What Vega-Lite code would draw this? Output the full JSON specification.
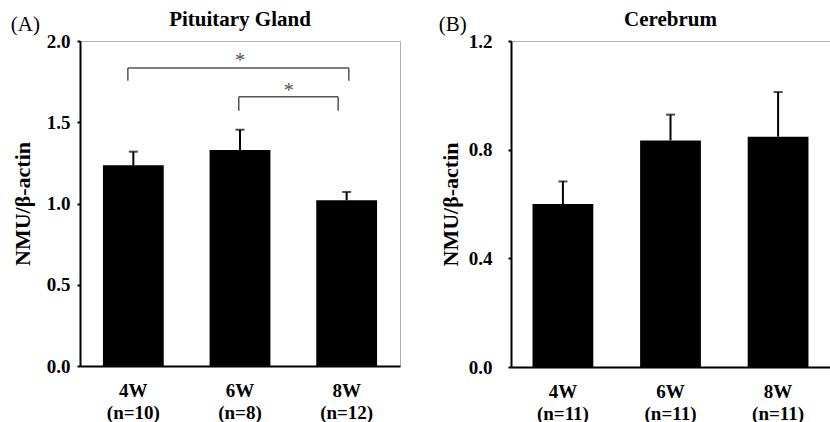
{
  "$schema": "https://vega.github.io/schema/vega-lite/v6.json",
  "background": "white",
  "padding": {"left": 10, "top": 8, "right": 0, "bottom": 0},
  "spacing": 37,
  "config": {
    "font": "Liberation Serif",
    "view": {"stroke": "#b0b0b0", "strokeWidth": 1},
    "axis": {
      "domainColor": "black", "domainWidth": 2, "tickColor": "black", "tickWidth": 2, "tickSize": 3,
      "labelFont": "Liberation Serif", "labelFontWeight": "bold", "labelFontSize": 19, "labelColor": "black",
      "titleFont": "Liberation Serif", "titleFontWeight": "bold", "titleFontSize": 22, "titleColor": "black",
      "grid": false
    },
    "title": {"font": "Liberation Serif", "color": "black"}
  },
  "datasets": {
    "A": [
      {"group": "4W (n=10)", "mean": 1.235, "upper": 1.319},
      {"group": "6W (n=8)", "mean": 1.329, "upper": 1.454},
      {"group": "8W (n=12)", "mean": 1.02, "upper": 1.071}
    ],
    "B": [
      {"group": "4W (n=11)", "mean": 0.6, "upper": 0.683},
      {"group": "6W (n=11)", "mean": 0.834, "upper": 0.929},
      {"group": "8W (n=11)", "mean": 0.848, "upper": 1.012}
    ],
    "brA": [
      {"id": 1, "from": "4W (n=10)", "to": "8W (n=12)", "top": 1.834, "leg": 1.756},
      {"id": 2, "from": "6W (n=8)", "to": "8W (n=12)", "top": 1.657, "leg": 1.571}
    ],
    "starA": [
      {"id": 1, "at": "6W (n=8)", "y": 1.875, "label": "*"},
      {"id": 2, "at": "6W (n=8)", "y": 1.695, "label": "*"}
    ]
  },
  "hconcat": [
    {
      "title": {"text": "(A)", "anchor": "start", "frame": "bounds", "fontSize": 21, "fontWeight": "normal", "offset": -26},
      "vconcat": [
        {
          "width": 320, "height": 325,
          "title": {"text": "Pituitary Gland", "fontSize": 21, "fontWeight": "bold", "offset": 2},
          "layer": [
            {
              "data": {"name": "A"},
              "mark": {"type": "bar", "color": "black"},
              "encoding": {
                "x": {"field": "group", "type": "nominal", "sort": null,
                      "scale": {"domain": ["4W (n=10)", "6W (n=8)", "8W (n=12)"], "paddingInner": 0.43, "paddingOuter": 0.215},
                      "axis": {"title": null, "labelAngle": 0, "ticks": false, "labelPadding": 15, "labelLineHeight": 22, "labelFontSize": 19, "labelFontWeight": "bold", "labelExpr": "split(datum.value, ' ')"}},
                "y": {"field": "mean", "type": "quantitative", "scale": {"domain": [0, 2]},
                      "axis": {"title": "NMU/β-actin", "values": [0, 0.5, 1, 1.5, 2], "format": ".1f", "labelPadding": 7, "titlePadding": 12, "labelFontSize": 19, "labelFontWeight": "bold", "titleFontSize": 22, "titleFontWeight": "bold"}}
              }
            },
            {
              "data": {"name": "A"},
              "mark": {"type": "rule", "color": "black", "strokeWidth": 2},
              "encoding": {
                "x": {"field": "group", "type": "nominal", "sort": null, "scale": {"domain": ["4W (n=10)", "6W (n=8)", "8W (n=12)"]}},
                "y": {"field": "mean", "type": "quantitative", "scale": {"domain": [0, 2]}},
                "y2": {"field": "upper"}
              }
            },
            {
              "data": {"name": "A"},
              "mark": {"type": "tick", "color": "black", "size": 9, "thickness": 2},
              "encoding": {
                "x": {"field": "group", "type": "nominal", "sort": null, "scale": {"domain": ["4W (n=10)", "6W (n=8)", "8W (n=12)"]}},
                "y": {"field": "upper", "type": "quantitative", "scale": {"domain": [0, 2]}}
              }
            },
            {
              "data": {"name": "brA"},
              "transform": [{"filter": "datum.id == 1"}],
              "mark": {"type": "rule", "color": "#555555", "strokeWidth": 1.5},
              "encoding": {
                "x": {"field": "from", "type": "nominal", "bandPosition": 0.41, "scale": {"domain": ["4W (n=10)", "6W (n=8)", "8W (n=12)"]}},
                "x2": {"field": "to", "bandPosition": 0.535},
                "y": {"field": "top", "type": "quantitative", "scale": {"domain": [0, 2]}}
              }
            },
            {
              "data": {"name": "brA"},
              "transform": [{"filter": "datum.id == 1"}],
              "mark": {"type": "rule", "color": "#555555", "strokeWidth": 1.5},
              "encoding": {
                "x": {"field": "from", "type": "nominal", "bandPosition": 0.41, "scale": {"domain": ["4W (n=10)", "6W (n=8)", "8W (n=12)"]}},
                "y": {"field": "top", "type": "quantitative", "scale": {"domain": [0, 2]}},
                "y2": {"field": "leg"}
              }
            },
            {
              "data": {"name": "brA"},
              "transform": [{"filter": "datum.id == 1"}],
              "mark": {"type": "rule", "color": "#555555", "strokeWidth": 1.5},
              "encoding": {
                "x": {"field": "to", "type": "nominal", "bandPosition": 0.535, "scale": {"domain": ["4W (n=10)", "6W (n=8)", "8W (n=12)"]}},
                "y": {"field": "top", "type": "quantitative", "scale": {"domain": [0, 2]}},
                "y2": {"field": "leg"}
              }
            },
            {
              "data": {"name": "brA"},
              "transform": [{"filter": "datum.id == 2"}],
              "mark": {"type": "rule", "color": "#555555", "strokeWidth": 1.5},
              "encoding": {
                "x": {"field": "from", "type": "nominal", "bandPosition": 0.48, "scale": {"domain": ["4W (n=10)", "6W (n=8)", "8W (n=12)"]}},
                "x2": {"field": "to", "bandPosition": 0.36},
                "y": {"field": "top", "type": "quantitative", "scale": {"domain": [0, 2]}}
              }
            },
            {
              "data": {"name": "brA"},
              "transform": [{"filter": "datum.id == 2"}],
              "mark": {"type": "rule", "color": "#555555", "strokeWidth": 1.5},
              "encoding": {
                "x": {"field": "from", "type": "nominal", "bandPosition": 0.48, "scale": {"domain": ["4W (n=10)", "6W (n=8)", "8W (n=12)"]}},
                "y": {"field": "top", "type": "quantitative", "scale": {"domain": [0, 2]}},
                "y2": {"field": "leg"}
              }
            },
            {
              "data": {"name": "brA"},
              "transform": [{"filter": "datum.id == 2"}],
              "mark": {"type": "rule", "color": "#555555", "strokeWidth": 1.5},
              "encoding": {
                "x": {"field": "to", "type": "nominal", "bandPosition": 0.36, "scale": {"domain": ["4W (n=10)", "6W (n=8)", "8W (n=12)"]}},
                "y": {"field": "top", "type": "quantitative", "scale": {"domain": [0, 2]}},
                "y2": {"field": "leg"}
              }
            },
            {
              "data": {"name": "starA"},
              "transform": [{"filter": "datum.id == 1"}],
              "mark": {"type": "text", "color": "#555555", "fontSize": 20, "baseline": "middle"},
              "encoding": {
                "x": {"field": "at", "type": "nominal", "bandPosition": 0.5, "scale": {"domain": ["4W (n=10)", "6W (n=8)", "8W (n=12)"]}},
                "y": {"field": "y", "type": "quantitative", "scale": {"domain": [0, 2]}},
                "text": {"field": "label"}
              }
            },
            {
              "data": {"name": "starA"},
              "transform": [{"filter": "datum.id == 2"}],
              "mark": {"type": "text", "color": "#555555", "fontSize": 20, "baseline": "middle"},
              "encoding": {
                "x": {"field": "at", "type": "nominal", "bandPosition": 1.3, "scale": {"domain": ["4W (n=10)", "6W (n=8)", "8W (n=12)"]}},
                "y": {"field": "y", "type": "quantitative", "scale": {"domain": [0, 2]}},
                "text": {"field": "label"}
              }
            }
          ]
        }
      ]
    },
    {
      "title": {"text": "(B)", "anchor": "start", "frame": "bounds", "fontSize": 21, "fontWeight": "normal", "offset": -26},
      "vconcat": [
        {
          "width": 319, "height": 326,
          "title": {"text": "Cerebrum", "fontSize": 21, "fontWeight": "bold", "offset": 2},
          "layer": [
            {
              "data": {"name": "B"},
              "mark": {"type": "bar", "color": "black"},
              "encoding": {
                "x": {"field": "group", "type": "nominal", "sort": null,
                      "scale": {"domain": ["4W (n=11)", "6W (n=11)", "8W (n=11)"], "paddingInner": 0.435, "paddingOuter": 0.2},
                      "axis": {"title": null, "labelAngle": 0, "ticks": false, "labelPadding": 15, "labelLineHeight": 22, "labelFontSize": 19, "labelFontWeight": "bold", "labelExpr": "split(datum.value, ' ')"}},
                "y": {"field": "mean", "type": "quantitative", "scale": {"domain": [0, 1.2]},
                      "axis": {"title": "NMU/β-actin", "values": [0, 0.4, 0.8, 1.2], "format": ".1f", "labelPadding": 16, "titlePadding": 6, "labelFontSize": 19, "labelFontWeight": "bold", "titleFontSize": 22, "titleFontWeight": "bold"}}
              }
            },
            {
              "data": {"name": "B"},
              "mark": {"type": "rule", "color": "black", "strokeWidth": 2},
              "encoding": {
                "x": {"field": "group", "type": "nominal", "sort": null, "scale": {"domain": ["4W (n=11)", "6W (n=11)", "8W (n=11)"]}},
                "y": {"field": "mean", "type": "quantitative", "scale": {"domain": [0, 1.2]}},
                "y2": {"field": "upper"}
              }
            },
            {
              "data": {"name": "B"},
              "mark": {"type": "tick", "color": "black", "size": 9, "thickness": 2},
              "encoding": {
                "x": {"field": "group", "type": "nominal", "sort": null, "scale": {"domain": ["4W (n=11)", "6W (n=11)", "8W (n=11)"]}},
                "y": {"field": "upper", "type": "quantitative", "scale": {"domain": [0, 1.2]}}
              }
            }
          ]
        }
      ]
    }
  ]
}
